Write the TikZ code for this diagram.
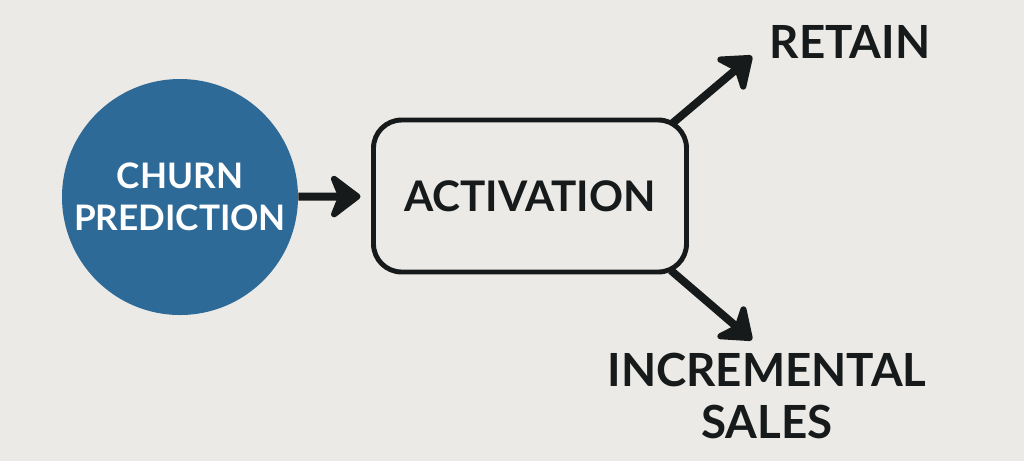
\documentclass[tikz,border=0pt]{standalone}
\usepackage{fontspec}
\setmainfont{Lato}
\usetikzlibrary{arrows.meta}
\definecolor{churnblue}{HTML}{2D6A98}
\definecolor{paper}{HTML}{EBEAE6}
\definecolor{ink}{HTML}{161A1A}

\begin{document}
\begin{tikzpicture}[x=0.02cm,y=-0.02cm,
	arr/.style={draw=ink,line width=4.5pt,-{Stealth[inset=6pt,length=20pt,width=30pt,round]}},
	label/.style={font=\bfseries\fontsize{26}{30}\selectfont,text=ink,align=center}]
%
	\fill[paper] (0,0) rectangle (1024,461);
	\node[circle,fill=churnblue,inner sep=0pt,minimum size=236*0.02cm,text=white,
		font=\bfseries\fontsize{20}{24}\selectfont,align=center] (churn) at (180,197) {CHURN\\PREDICTION};
	\node[draw=ink,line width=2.8pt,rounded corners=16pt,minimum width=313*0.02cm,
		minimum height=152*0.02cm,label,font=\bfseries\fontsize{24}{28}\selectfont] (act) at (530,196) {ACTIVATION};
	\node[label] (retain) at (850,42) {RETAIN};
	\node[label] (sales) at (767,396) {INCREMENTAL\\SALES};
	\coordinate (rtip) at (752,56);
	\coordinate (stip) at (752,340);
%
	\draw[arr,shorten >=6pt] (churn) -- (act);
	\draw[arr] ([shift={(-18,7)}]act.north east) -- (rtip);
	\draw[arr] ([shift={(-18,-4)}]act.south east) -- (stip);
%
\end{tikzpicture}
\end{document}
